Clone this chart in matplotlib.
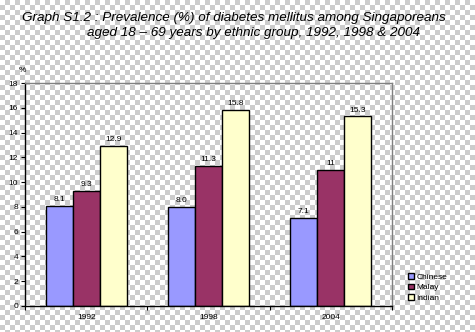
import numpy as np
import matplotlib
matplotlib.use("Agg")
import matplotlib.pyplot as plt

plt.rcParams['font.family'] = ['Liberation Sans', 'DejaVu Sans']

# data
years = ['1992', '1998', '2004']
groups = ['Chinese', 'Malay', 'Indian']
chinese = [8.1, 8.0, 7.1]
malay = [9.3, 11.3, 11.0]
indian = [12.9, 15.8, 15.3]
chinese_lbl = ['8.1', '8.0', '7.1']
malay_lbl = ['9.3', '11.3', '11']
indian_lbl = ['12.9', '15.8', '15.3']
colors = ['#9999FF', '#993366', '#FFFFCC']

W, H = 475, 332
fig = plt.figure(figsize=(W / 100, H / 100), dpi=100)

# transparency-style checkerboard behind everything
sq = 5
yy, xx = np.mgrid[0:H, 0:W]
chk = ((xx // sq + yy // sq) % 2).astype(float)
img = np.where(chk[..., None] == 1, 0.8, 1.0) * np.ones((H, W, 3))
fig.figimage(img, xo=0, yo=0, origin='upper', zorder=-1)
fig.patch.set_alpha(0)

ax = fig.add_axes([25 / W, 1 - 306 / H, (392 - 25) / W, (306 - 83) / H])
ax.patch.set_alpha(0)

x = np.arange(len(years))
bw = 0.22
series = [chinese, malay, indian]
labels = [chinese_lbl, malay_lbl, indian_lbl]
for i, (vals, lbl) in enumerate(zip(series, labels)):
    bars = ax.bar(x + (i - 1) * bw, vals, bw, color=colors[i],
                  edgecolor='black', linewidth=1.0, label=groups[i])
    ax.bar_label(bars, labels=lbl, padding=2, fontsize=6)

ax.set_xlim(-0.5, 2.5)
ax.set_ylim(0, 18)
ax.set_yticks(range(0, 19, 2))
ax.set_xticks(x)
ax.set_xticklabels(years)
ax.set_xticks([-0.5, 0.5, 1.5, 2.5], minor=True)
ax.tick_params(axis='x', which='major', length=0, labelsize=6, pad=6)
ax.tick_params(axis='x', which='minor', length=3, width=0.8, direction='out')
ax.tick_params(axis='y', length=3, width=0.8, labelsize=6, pad=2)

for s in ['left', 'bottom']:
    ax.spines[s].set_color('black')
    ax.spines[s].set_linewidth(1.0)
for s in ['top', 'right']:
    ax.spines[s].set_color('#808080')
    ax.spines[s].set_linewidth(1.0)

fig.text(22 / W, 1 - 70 / H, '%', fontsize=6, ha='center', va='center')

fig.text(22 / W, 1 - 18 / H,
         'Graph S1.2 : Prevalence (%) of diabetes mellitus among Singaporeans',
         fontsize=9.7, style='italic', ha='left', va='center')
fig.text(87 / W, 1 - 33 / H,
         'aged 18 \u2013 69 years by ethnic group, 1992, 1998 & 2004',
         fontsize=9.7, style='italic', ha='left', va='center')

fig.legend(loc='upper left', bbox_to_anchor=(404 / W, 1 - 269 / H),
           frameon=False, fontsize=6, handlelength=0.7, handleheight=0.7,
           handletextpad=0.3, labelspacing=0.3, borderpad=0)

fig.savefig('out.png', dpi=100)
